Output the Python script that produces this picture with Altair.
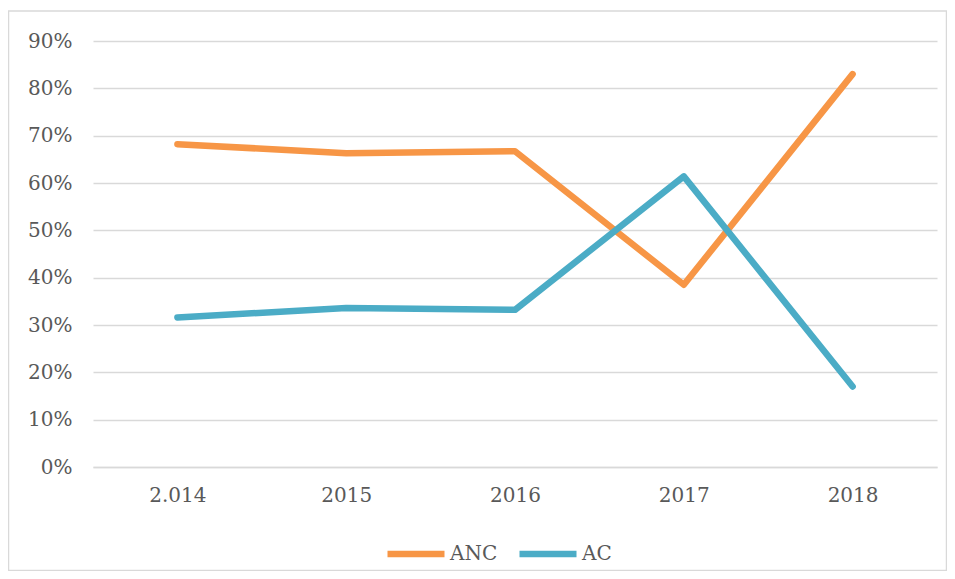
import altair as alt
import pandas as pd

years = ["2.014", "2015", "2016", "2017", "2018"]
anc = [0.682, 0.663, 0.667, 0.385, 0.830]
ac = [0.316, 0.336, 0.332, 0.614, 0.170]
series_names = ["ANC", "AC"]
series_colors = ["#F79646", "#4BACC6"]
y_ticks = [i / 10 for i in range(10)]

rows = []
for name, vals in zip(series_names, [anc, ac]):
    for yr, v in zip(years, vals):
        rows.append({"year": yr, "value": v, "series": name})
df = pd.DataFrame(rows)

FONT = "DejaVu Serif"
FS = 20
W, H = 844, 426

lines = alt.Chart(df).mark_line(strokeWidth=6.5, strokeCap="round", strokeJoin="round").encode(
    x=alt.X("year:O", sort=years, scale=alt.Scale(type="point", padding=0.5),
            axis=alt.Axis(title=None, labelAngle=0, ticks=False, domain=True,
                          domainColor="#d9d9d9", domainWidth=1.5, labelPadding=18,
                          grid=False)),
    y=alt.Y("value:Q", scale=alt.Scale(domain=[0, 0.9], nice=False),
            axis=alt.Axis(title=None, format=".0%", values=y_ticks, ticks=False,
                          domain=False, grid=True, gridColor="#d9d9d9", gridWidth=1.5,
                          labelPadding=21)),
    color=alt.Color("series:N", sort=series_names,
                    scale=alt.Scale(domain=series_names, range=series_colors),
                    legend=alt.Legend(title=None, orient="none", direction="horizontal",
                                      legendX=291, legendY=481, symbolType="stroke",
                                      symbolStrokeWidth=6.5, symbolSize=3249,
                                      labelFont=FONT, labelFontSize=FS, labelColor="#595959",
                                      labelOffset=2, columnPadding=8)),
    order=alt.Order("year:O"),
)

border = alt.Chart(pd.DataFrame({"a": [0]})).mark_rect(
    fill="transparent", stroke="#d9d9d9", strokeWidth=1.5
).encode(
    x=alt.value(-84.5), x2=alt.value(853.5), y=alt.value(-30), y2=alt.value(529.5)
)

chart = alt.layer(border, lines).properties(
    width=W, height=H,
    autosize=alt.AutoSizeParams(type="none"),
    padding={"left": 85, "top": 33, "right": 10, "bottom": 104},
    background="white",
).configure_view(stroke=None).configure_axis(
    labelFont=FONT, labelFontSize=FS, labelColor="#595959"
)

chart.save("out.html", embed_options={"renderer": "svg", "actions": False})
